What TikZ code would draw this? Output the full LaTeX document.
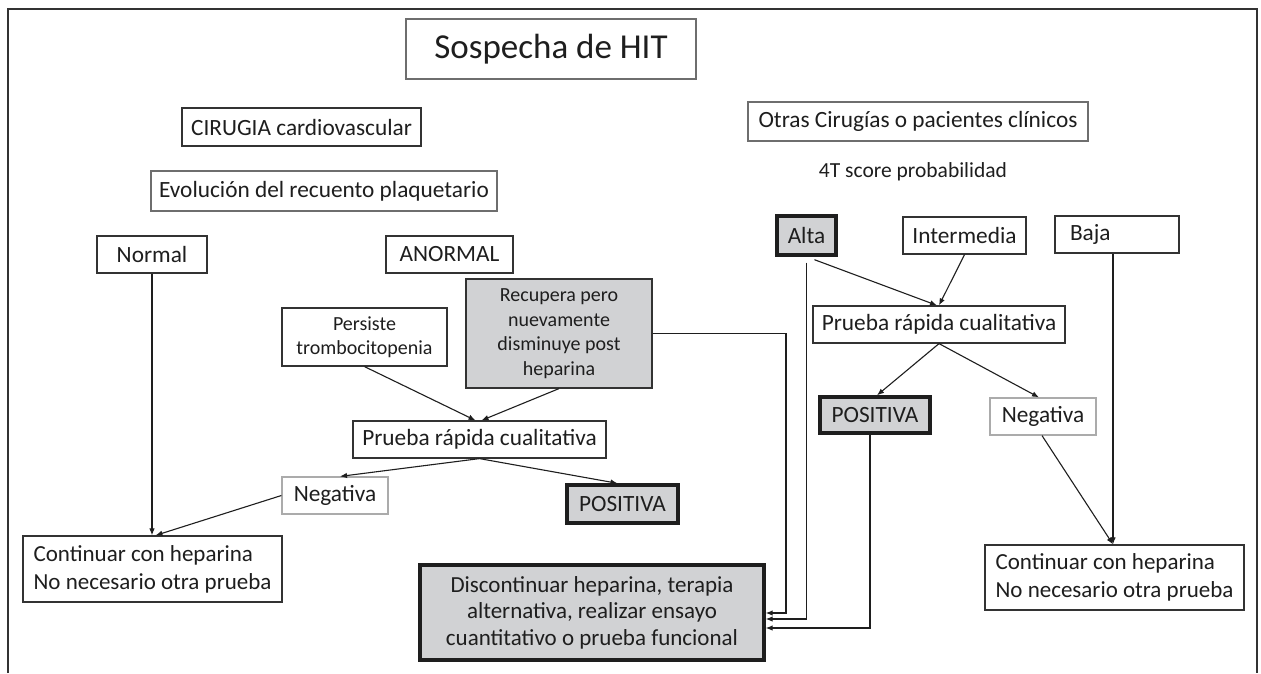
\documentclass[tikz,border=0pt]{standalone}
\usepackage{fontspec}
\setmainfont{Carlito}
\usetikzlibrary{arrows.meta}
\definecolor{ink}{HTML}{1E1E1E}
\definecolor{boxline}{HTML}{333333}
\definecolor{midline}{HTML}{6E6E6E}
\definecolor{lightline}{HTML}{ABABAB}
\definecolor{grayfill}{HTML}{D1D2D4}
\begin{document}
\begin{tikzpicture}[x=1pt,y=-1pt,
  every node/.style={text=ink},
  box/.style={draw=boxline, line width=1.2pt, fill=white, inner sep=0pt, align=center,
    font=\fontsize{23.3}{27}\selectfont},
  smallbox/.style={box, font=\fontsize{20}{24.5}\selectfont},
  strongbox/.style={box, draw=ink, line width=3.4pt, fill=grayfill},
  lightbox/.style={box, draw=lightline},
  leftbox/.style={box, align=left, font=\fontsize{23}{28}\selectfont},
  conn/.style={draw=ink, line width=1.1pt},
  arr/.style={conn, -{Latex[length=7pt,width=5.5pt]}}
]
\useasboundingbox (0,0) rectangle (1261,673);
\fill[white] (0,0) rectangle (1261,673);
% frame
\draw[draw=boxline, line width=1.8pt] (8,673) -- (8,9) -- (1257,9) -- (1257,673);

% top nodes
\node[box, draw=midline, minimum width=290, minimum height=60, font=\fontsize{35}{40}\selectfont] (sosp) at (551,49) {Sospecha de HIT};
\node[box, minimum width=239, minimum height=38] (cir) at (301.5,127) {CIRUGIA cardiovascular};
\node[box, draw=midline, minimum width=346, minimum height=40] (evol) at (324,191) {Evolución del recuento plaquetario};
\node[box, draw=midline, minimum width=340, minimum height=39] (otras) at (918,121.5) {Otras Cirugías o pacientes clínicos};
\node[font=\fontsize{21.5}{26}\selectfont, inner sep=0pt] (score) at (913,172) {4T score probabilidad};

% left branch
\node[box, minimum width=110, minimum height=37] (normal) at (152,254.5) {Normal};
\node[box, minimum width=127, minimum height=37] (anormal) at (449.5,254.5) {ANORMAL};
\node[smallbox, minimum width=165, minimum height=58] (pers) at (364.5,337) {Persiste\\trombocitopenia};
\node[smallbox, fill=grayfill, minimum width=186, minimum height=109] (recu) at (559,333.5) {Recupera pero\\nuevamente\\disminuye post\\heparina};
\node[box, minimum width=253, minimum height=37] (pruL) at (479.5,439.5) {Prueba rápida cualitativa};
\node[lightbox, minimum width=106, minimum height=37] (negL) at (335,495.5) {Negativa};
\node[strongbox, minimum width=111, minimum height=38] (posL) at (622.5,504) {POSITIVA};
\node[leftbox, minimum width=259, minimum height=66] (contL) at (152.5,569) {Continuar con heparina\\No necesario otra prueba};
\node[strongbox, minimum width=344, minimum height=95, font=\fontsize{23}{26.5}\selectfont] (disc) at (592,612.5) {Discontinuar heparina, terapia\\alternativa, realizar ensayo\\cuantitativo o prueba funcional};

% right branch
\node[strongbox, minimum width=59, minimum height=39] (alta) at (806.5,235.5) {Alta};
\node[box, minimum width=123, minimum height=37] (inter) at (964.5,235.5) {Intermedia};
\node[box, minimum width=124, minimum height=37, text width=94pt, align=left] (baja) at (1117,234.5) {Baja};
\node[box, minimum width=252, minimum height=37] (pruR) at (939,324.5) {Prueba rápida cualitativa};
\node[strongbox, minimum width=110, minimum height=36] (posR) at (875,415) {POSITIVA};
\node[lightbox, minimum width=106, minimum height=37] (negR) at (1043,416.5) {Negativa};
\node[leftbox, minimum width=259, minimum height=65] (contR) at (1114.5,577.5) {Continuar con heparina\\No necesario otra prueba};

% connectors left
\draw[arr] (normal.south) -- (normal.south |- contL.north);
\draw[arr] (negL.west) -- ([xshift=3pt]contL.north);
\draw[arr] (pers.south) -- ([xshift=-4pt]pruL.north);
\draw[arr] (recu.south) -- ([xshift=2pt]pruL.north);
\draw[arr] (pruL.south) -- ([xshift=5pt]negL.north);
\draw[arr] (pruL.south) -- ([xshift=-5pt]posL.north);
\coordinate (rc) at (786,613);
\draw[arr] (recu.east) -| (rc) -- (rc -| disc.east);

% connectors right
\draw[arr] ([yshift=-6pt]alta.south) |- ([yshift=-6.5pt]disc.east);
\draw[arr] ([xshift=-5pt]posR.south) |- ([yshift=-15.5pt]disc.east);
\draw[arr] ([xshift=8pt,yshift=-3pt]alta.south) -- ([xshift=-2pt]pruR.north);
\draw[arr] (inter.south) -- (pruR.north);
\draw[arr] (pruR.south) -- ([xshift=2pt]posR.north);
\draw[arr] (pruR.south) -- ([xshift=-4pt]negR.north);
\draw[arr] ([xshift=-1pt]negR.south) -- ([xshift=-1.5pt]contR.north);
\draw[arr] ([xshift=-4pt]baja.south) -- ([xshift=-1.5pt]contR.north);
\end{tikzpicture}
\end{document}
